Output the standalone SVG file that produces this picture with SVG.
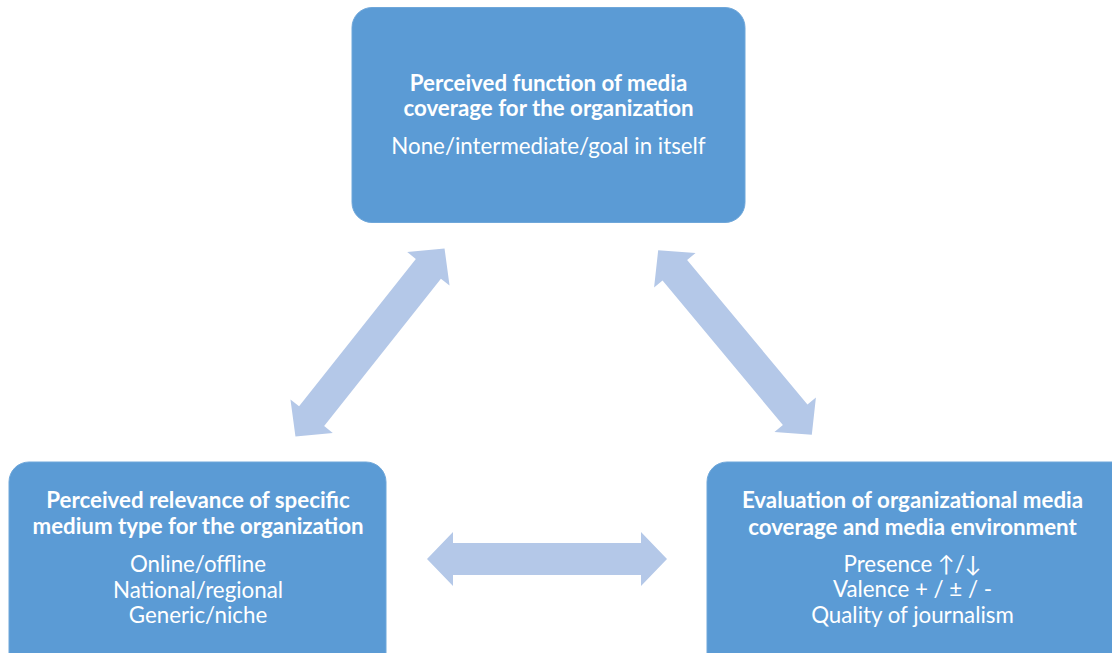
<svg xmlns="http://www.w3.org/2000/svg" width="1112" height="653" viewBox="0 0 1112 653">
<defs>
<style>
.box{fill:#5B9BD5;stroke:#6FA7DA;stroke-width:1}
.t{font-family:Lato,"Open Sans","Liberation Sans",sans-serif;fill:#FFFFFF;text-anchor:middle;font-size:22.3px}
.b{font-weight:bold}
.arr{fill:#B4C8E8}
</style>
<polygon id="dbl" points="-120,0 -94,-27 -94,-16 94,-16 94,-27 120,0 94,27 94,16 -94,16 -94,27"/>
</defs>
<rect width="1112" height="653" fill="#FFFFFF"/>
<g id="connectors">
<use href="#dbl" class="arr" transform="translate(547,559)"/>
<use href="#dbl" class="arr" transform="translate(370,342.5) rotate(-51.6)"/>
<use href="#dbl" class="arr" transform="translate(735,342.5) rotate(50.2)"/>
</g>
<g id="node-function">
<rect class="box" x="352" y="7.5" width="393" height="215" rx="20"/>
<text class="t b" x="548.5" y="90.5">Perceived function of media</text>
<text class="t b" x="548.5" y="116">coverage for the organization</text>
<text class="t" x="548.5" y="153.5">None/intermediate/goal in itself</text>
</g>
<g id="node-relevance">
<rect class="box" x="9" y="462" width="377" height="215" rx="20"/>
<text class="t b" x="198" y="508">Perceived relevance of specific</text>
<text class="t b" x="198" y="534">medium type for the organization</text>
<text class="t" x="198" y="572">Online/offline</text>
<text class="t" x="198" y="598">National/regional</text>
<text class="t" x="198" y="623">Generic/niche</text>
</g>
<g id="node-evaluation">
<rect class="box" x="707" y="462" width="430" height="215" rx="20"/>
<text class="t b" x="912.5" y="508">Evaluation of organizational media</text>
<text class="t b" x="912.5" y="535">coverage and media environment</text>
<text class="t" x="912.5" y="572">Presence ↑/↓</text>
<text class="t" x="912.5" y="597">Valence + / ± / -</text>
<text class="t" x="912.5" y="623">Quality of journalism</text>
</g>
</svg>
